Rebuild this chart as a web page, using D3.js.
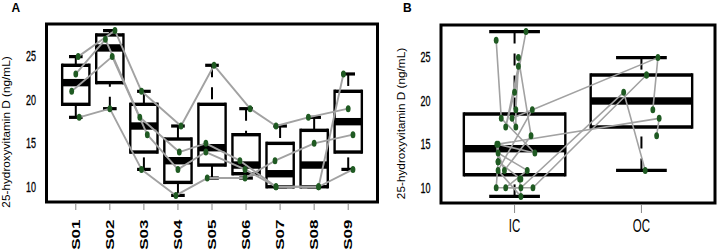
<!DOCTYPE html>
<html><head><meta charset="utf-8">
<script src="https://cdn.jsdelivr.net/npm/d3@7"></script>
<style>
body{margin:0;background:#fff}
svg{display:block}
text{font-family:"Liberation Sans",Arial,Helvetica,sans-serif;fill:#000}
</style>
</head><body>
<svg id="chart" width="717" height="252"></svg>
<script>
// ---------------- data ----------------
const sessions = ["S01","S02","S03","S04","S05","S06","S07","S08","S09"];
const groups = ["IC","OC"];
const sessionGroup = ["OC","IC","IC","IC","IC","IC","IC","IC","OC"];
const subjectNames = ["P","Q","R","S"];
const valuesP = [25,28,21,17,24,19,17,18,19];
const valuesQ = [18,19,12,9,11,11,13,15,16];
const valuesR = [23,27,18,14,15,13,10,10,23];
const valuesS = [21,25,16,12,14,12,10,10,12];
// horizontal jitter (category units), panel A
const jitterA_P = [0.07,0.15,-0.07,0.09,0.06,0.12,-0.12,-0.17,0.0];
const jitterA_Q = [0.10,0.0,-0.07,-0.06,-0.14,-0.03,-0.15,0.0,0.14];
const jitterA_R = [0.0,-0.13,-0.12,0.04,-0.18,-0.18,-0.12,0.13,-0.14];
const jitterA_S = [-0.12,0.07,0.10,0.0,-0.18,-0.03,-0.12,0.13,0.14];
// horizontal jitter (category units), panel B
const jitterB_P = [0.13,0.09,0.0,-0.07,0.03,0.01,0.01,-0.02,0.09];
const jitterB_Q = [0.14,0.14,-0.13,0.05,0.04,0.05,-0.13,-0.14,0.12];
const jitterB_R = [0.04,-0.145,-0.105,0.16,-0.13,-0.13,-0.145,0.145,0.04];
const jitterB_S = [-0.14,0.03,0.13,-0.08,-0.13,0.10,-0.07,0.05,0.03];
const yTicks = [10,15,20,25];
const yTitle = "25-hydroxyvitamin D (ng/mL)";
const panelLabels = ["A","B"];

// ---------------- helpers ----------------
const subjectValues = [valuesP, valuesQ, valuesR, valuesS];
const jitterA = [jitterA_P, jitterA_Q, jitterA_R, jitterA_S];
const jitterB = [jitterB_P, jitterB_Q, jitterB_R, jitterB_S];

function fivenum(arr){
  const x = arr.slice().sort((a,b)=>a-b), n = x.length;
  const n4 = Math.floor((n+3)/2)/2;
  return [1, n4, (n+1)/2, n+1-n4, n].map(d => 0.5*(x[Math.floor(d)-1] + x[Math.ceil(d)-1]));
}
function boxStats(vals){
  const f = fivenum(vals), iqr = f[3]-f[1];
  const lo = d3.min(vals.filter(v => v >= f[1]-1.5*iqr));
  const hi = d3.max(vals.filter(v => v <= f[3]+1.5*iqr));
  return {lo, q1:f[1], med:f[2], q3:f[3], hi};
}

const SX = 0.62; // horizontal squeeze of the original image
const svg = d3.select("#chart");
const all = [].concat(...subjectValues);
const [vmin, vmax] = d3.extent(all);
const vpad = (vmax - vmin)*0.04;
const yDomain = [vmin - vpad, vmax + vpad];

const GREEN = "#1f5a22", GREY = "#a2a2a2";

function drawPanel(cfg){
  const g = svg.append("g");
  const n = cfg.cats.length;
  const xPad = n*0.04;
  const x = d3.scaleLinear().domain([0.5 - xPad, n + 0.5 + xPad]).range([cfg.left, cfg.right]);
  const y = d3.scaleLinear().domain(yDomain).range([cfg.bottom, cfg.top]);

  // boxes
  cfg.cats.forEach((c, i) => {
    const vals = cfg.boxValues[i];
    const s = boxStats(vals);
    const pos = i + 1;
    const cx = x(pos), x0 = x(pos-0.4), x1 = x(pos+0.4), c0 = x(pos-0.2), c1 = x(pos+0.2);
    const bg = g.append("g");
    [[s.lo, s.q1],[s.hi, s.q3]].forEach(([a,b]) => {
      bg.append("line").attr("x1",cx).attr("x2",cx).attr("y1",y(a)).attr("y2",y(b))
        .attr("stroke","#000").attr("stroke-width",2).attr("stroke-dasharray","12 10");
      bg.append("line").attr("x1",c0).attr("x2",c1).attr("y1",y(a)).attr("y2",y(a))
        .attr("stroke","#000").attr("stroke-width",3.2);
    });
    bg.append("rect").attr("x",x0).attr("width",x1-x0).attr("y",y(s.q3)).attr("height",y(s.q1)-y(s.q3))
      .attr("fill","#fff");
    bg.append("rect").attr("x",x0).attr("width",x1-x0).attr("y",y(s.med)-3.7).attr("height",7.4)
      .attr("fill","#000");
    [[x0,y(s.q3),x1,y(s.q3),3.4],[x0,y(s.q1),x1,y(s.q1),3.4],
     [x0,y(s.q3)-1.7,x0,y(s.q1)+1.7,2.4],[x1,y(s.q3)-1.7,x1,y(s.q1)+1.7,2.4]].forEach(l => {
      bg.append("line").attr("x1",l[0]).attr("y1",l[1]).attr("x2",l[2]).attr("y2",l[3])
        .attr("stroke","#000").attr("stroke-width",l[4]);
    });
  });

  const line = d3.line().x(d => x(d.pos)).y(d => y(d.v));
  cfg.paths.forEach(p => {
    g.append("path").attr("d", line(p)).attr("fill","none")
      .attr("stroke",GREY).attr("stroke-width",cfg.lineW).attr("stroke-linejoin","round");
  });
  cfg.paths.forEach(p => {
    p.forEach(d => {
      g.append("ellipse").attr("cx",x(d.pos)).attr("cy",y(d.v)).attr("rx",2.4).attr("ry",3.5)
        .attr("fill",GREEN);
    });
  });

  g.append("rect").attr("x",cfg.left).attr("y",cfg.top).attr("width",cfg.right-cfg.left)
    .attr("height",cfg.bottom-cfg.top).attr("fill","none").attr("stroke","#000").attr("stroke-width",3);

  yTicks.forEach(t => {
    g.append("text").attr("transform",`translate(${cfg.left-10.5},${y(t)}) scale(${SX},1)`)
      .attr("text-anchor","end").attr("dominant-baseline","central")
      .style("font-size","14.5px").style("stroke","#000").style("stroke-width","0.3px").text(t);
  });
  cfg.cats.forEach((c,i) => {
    g.append("line").attr("x1",x(i+1)).attr("x2",x(i+1)).attr("y1",cfg.bottom+2).attr("y2",cfg.bottom+cfg.tickLen)
      .attr("stroke","#888").attr("stroke-width",1);
  });
  cfg.cats.forEach((c,i) => {
    if (cfg.rotateLabels) {
      g.append("text").attr("transform",`translate(${x(i+1)},${cfg.labelY}) rotate(-90) scale(1,${SX+0.05})`)
        .attr("text-anchor","end").attr("dominant-baseline","central")
        .style("font-size","17px").style("font-weight","bold").text(c);
    } else {
      g.append("text").attr("transform",`translate(${x(i+1)},${cfg.labelY}) scale(${SX},1)`)
        .attr("text-anchor","middle").style("font-size","18.5px").text(c);
    }
  });
  g.append("text").attr("transform",`translate(${cfg.titleX},${cfg.titleY}) rotate(-90) scale(1,0.85)`)
    .attr("text-anchor","middle").attr("dominant-baseline","central")
    .style("font-size","11.8px").text(yTitle);
  g.append("text").attr("x",cfg.tagX).attr("y",cfg.tagY).style("font-size","12px").style("font-weight","bold")
    .text(cfg.tag);
}

drawPanel({
  cats: sessions,
  boxValues: sessions.map((s,i) => subjectValues.map(v => v[i])),
  paths: subjectValues.map((vals,k) => vals.map((v,i) => ({pos: i+1+jitterA[k][i], v}))),
  left: 46.5, right: 377.5, top: 24, bottom: 202,
  lineW: 1.9, tickLen: 8, rotateLabels: true, labelY: 219.5,
  titleX: 6.5, titleY: 132, tag: panelLabels[0], tagX: 11.5, tagY: 12
});

drawPanel({
  cats: groups,
  boxValues: groups.map(gname => [].concat(...subjectValues.map(v => v.filter((_,i) => sessionGroup[i] === gname)))),
  paths: subjectValues.map((vals,k) => {
    const pts = [];
    groups.forEach((gname, gi) => {
      vals.forEach((v,i) => { if (sessionGroup[i] === gname) pts.push({pos: gi+1+jitterB[k][i], v}); });
    });
    return pts;
  }),
  left: 441, right: 715, top: 25, bottom: 203,
  lineW: 1.6, tickLen: 10, rotateLabels: false, labelY: 232,
  titleX: 401, titleY: 123.5, tag: panelLabels[1], tagX: 403, tagY: 11.5
});
</script>
</body></html>
